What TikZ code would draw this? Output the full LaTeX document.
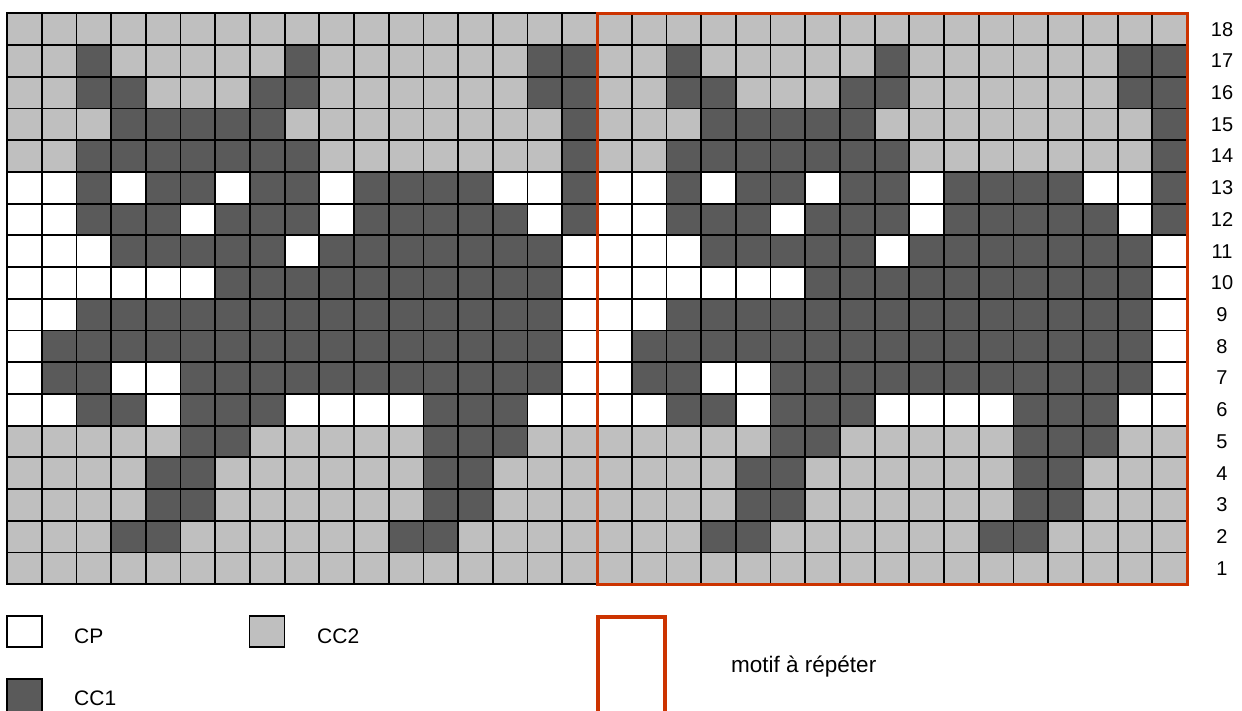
\documentclass[tikz,border=0pt]{standalone}
\usepackage{fontspec}
\setmainfont{Liberation Sans}
\definecolor{cL}{HTML}{BFBFBF}
\definecolor{cD}{HTML}{5A5A5A}
\definecolor{cW}{HTML}{FFFFFF}
\definecolor{motif}{HTML}{CC3300}
\begin{document}
\begin{tikzpicture}[x=1pt,y=-1pt,
  gridline/.style={line width=1.8pt, line cap=rect},
  keybox/.style={draw=black, line width=1.6pt, minimum width=35, minimum height=31, inner sep=0pt},
  keytext/.style={anchor=base west, inner sep=0pt, font=\fontsize{21}{25}\selectfont},
  rowlab/.style={inner sep=0pt, font=\fontsize{20}{24}\selectfont}]
\useasboundingbox (0,0) rectangle (1242,711);
\def\W{34.706}
\def\H{31.72}
\foreach \row [count=\r] in {
 {L,L,L,L,L,L,L,L,L,L,L,L,L,L,L,L,L},
 {L,L,D,L,L,L,L,L,D,L,L,L,L,L,L,D,D},
 {L,L,D,D,L,L,L,D,D,L,L,L,L,L,L,D,D},
 {L,L,L,D,D,D,D,D,L,L,L,L,L,L,L,L,D},
 {L,L,D,D,D,D,D,D,D,L,L,L,L,L,L,L,D},
 {W,W,D,W,D,D,W,D,D,W,D,D,D,D,W,W,D},
 {W,W,D,D,D,W,D,D,D,W,D,D,D,D,D,W,D},
 {W,W,W,D,D,D,D,D,W,D,D,D,D,D,D,D,W},
 {W,W,W,W,W,W,D,D,D,D,D,D,D,D,D,D,W},
 {W,W,D,D,D,D,D,D,D,D,D,D,D,D,D,D,W},
 {W,D,D,D,D,D,D,D,D,D,D,D,D,D,D,D,W},
 {W,D,D,W,W,D,D,D,D,D,D,D,D,D,D,D,W},
 {W,W,D,D,W,D,D,D,W,W,W,W,D,D,D,W,W},
 {L,L,L,L,L,D,D,L,L,L,L,L,D,D,D,L,L},
 {L,L,L,L,D,D,L,L,L,L,L,L,D,D,L,L,L},
 {L,L,L,L,D,D,L,L,L,L,L,L,D,D,L,L,L},
 {L,L,L,D,D,L,L,L,L,L,L,D,D,L,L,L,L},
 {L,L,L,L,L,L,L,L,L,L,L,L,L,L,L,L,L}}{
  \foreach \c [count=\k] in \row {
    \fill[fill=c\c] ({7+(\k-1)*\W},{13.3+(\r-1)*\H}) rectangle ++(\W,\H);
    \fill[fill=c\c] ({7+(\k+16)*\W},{13.3+(\r-1)*\H}) rectangle ++(\W,\H);
  }
}
\foreach \i in {0,...,34}
  \draw[gridline] ({7+\i*\W},13.3) -- ({7+\i*\W},584.3);
\foreach \j in {0,...,18}
  \draw[gridline] (7,{13.3+\j*\H}) -- (1187,{13.3+\j*\H});
\draw[motif, line width=3pt] (597,13.3) rectangle (1187,584.3);
\foreach \j in {1,...,18}
  \node[rowlab] (lab\j) at (1222,{13.3+(18-\j+0.5)*\H}) {\j};
% legend
\node[keybox, fill=cW] (kCP) at (24.5,631.5) {};
\node[keybox, fill=cL] (kCC2) at (267,631.5) {};
\node[keybox, fill=cD, minimum height=34] (kCC1) at (24.5,696) {};
\node[draw=motif, line width=3.5pt, minimum width=67, minimum height=96, inner sep=0pt] (kmotif) at (631.5,665) {};
\node[keytext] (tCP) at (74,643) {CP};
\node[keytext] (tCC2) at (317,643) {CC2};
\node[keytext] (tCC1) at (74,705) {CC1};
\node[keytext, font=\fontsize{22.5}{26}\selectfont] (tmotif) at (731,672.5) {motif à répéter};
\end{tikzpicture}
\end{document}
